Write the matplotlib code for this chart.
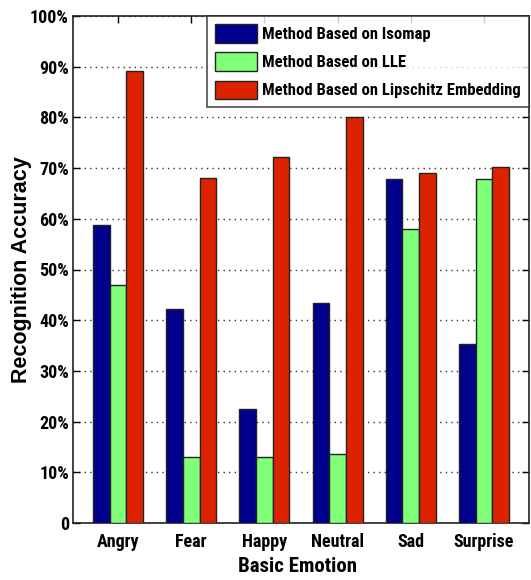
import numpy as np
import matplotlib
matplotlib.use("Agg")
import matplotlib.pyplot as plt
from matplotlib.ticker import FuncFormatter

plt.rcParams['font.family'] = ['Roboto Condensed', 'DejaVu Sans']

emotions = ["Angry", "Fear", "Happy", "Neutral", "Sad", "Surprise"]
isomap = [58.8, 42.3, 22.5, 43.3, 67.8, 35.4]
lle = [47.0, 13.1, 13.0, 13.7, 58.0, 67.8]
lipschitz = [89.2, 68.0, 72.2, 80.1, 69.0, 70.2]
series_names = ["Method Based on Isomap", "Method Based on LLE",
                "Method Based on Lipschitz Embedding"]
colors = ["#00008C", "#80FF78", "#DD2200"]

fig = plt.figure(figsize=(5.31, 5.80), dpi=100)
ax = fig.add_axes([73 / 531, 1 - 523 / 580, (529 - 73) / 531, (523 - 16) / 580])

x = np.arange(1, len(emotions) + 1)
bw = 0.228
for i, (vals, name, c) in enumerate(zip([isomap, lle, lipschitz], series_names, colors)):
    ax.bar(x + (i - 1) * bw, vals, width=bw, color=c, edgecolor="#222222",
           linewidth=1.0, label=name, zorder=3)

ax.set_xlim(0.385, 6.615)
ax.set_ylim(0, 100)
ax.set_xticks(x)
ax.set_xticklabels(emotions)
ax.set_yticks(np.arange(0, 101, 10))
ax.yaxis.set_major_formatter(FuncFormatter(lambda v, p: "0" if v == 0 else f"{int(v)}%"))
ax.yaxis.grid(True, linestyle=(0, (1, 3)), color="#333333", linewidth=1.0, zorder=0)
ax.tick_params(direction="in", length=5, top=True, right=True, labelsize=13, width=1)
ax.tick_params(axis="x", pad=7)
ax.tick_params(axis="y", pad=3)
for lab in ax.get_xticklabels() + ax.get_yticklabels():
    lab.set_fontweight("bold")
for s in ax.spines.values():
    s.set_linewidth(1.2)
    s.set_color("#222222")

ax.set_xlabel("Basic Emotion", fontsize=15, fontweight="bold")
ax.xaxis.set_label_coords((298 - 73) / 456, (523 - 567) / 507)
ax.xaxis.label.set_va("center")
ax.set_ylabel("Recognition Accuracy", fontsize=15.5, fontweight="bold",
              family=["Liberation Sans", "DejaVu Sans"])
ax.yaxis.set_label_coords((22 - 73) / 456, (523 - 270) / 507)
ax.yaxis.label.set_va("center")

leg = ax.legend(loc="upper right", fontsize=12, frameon=True, fancybox=False,
                edgecolor="#222222", borderaxespad=0, handlelength=2.5,
                handleheight=1.3, labelspacing=0.6, handletextpad=0.3,
                borderpad=0.5)
leg.get_frame().set_linewidth(1.2)
for t in leg.get_texts():
    t.set_fontweight("bold")
for h in leg.legend_handles:
    h.set_edgecolor("#222222")

fig.savefig("out.png", dpi=100)
